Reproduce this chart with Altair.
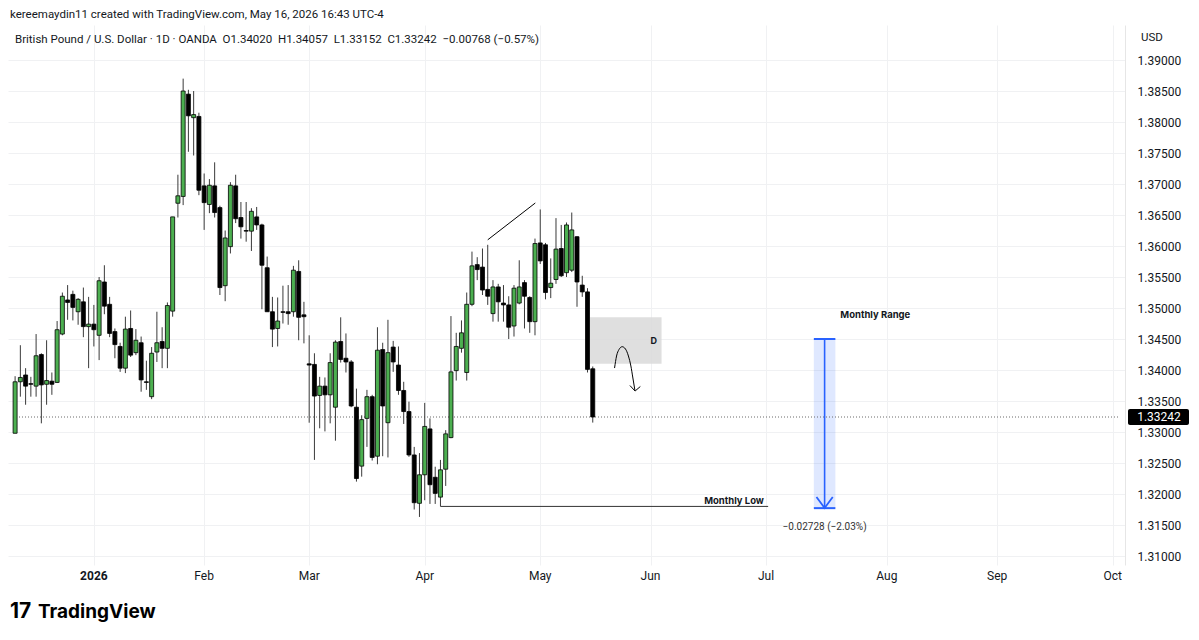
import altair as alt
import pandas as pd

# ---------------- data (GBP/USD daily) ----------------
opens = [1.3298, 1.3381, 1.3392, 1.3378, 1.3374, 1.3425, 1.3377, 1.3382, 1.3380, 1.3458,
         1.3513, 1.3522, 1.3494, 1.3510, 1.3470, 1.3474, 1.3456, 1.3542, 1.3506, 1.3462,
         1.3438, 1.3403, 1.3467, 1.3428, 1.3444, 1.3381, 1.3357, 1.3429, 1.3446, 1.3435,
         1.3495, 1.3669, 1.3680, 1.3845, 1.3807, 1.3809, 1.3697, 1.3667, 1.3697, 1.3662,
         1.3536, 1.3599, 1.3697, 1.3646, 1.3625, 1.3624, 1.3647, 1.3634, 1.3565, 1.3494,
         1.3467, 1.3494, 1.3494, 1.3494, 1.3559, 1.3489, 1.3410, 1.3409, 1.3359, 1.3374,
         1.3360, 1.3340, 1.3446, 1.3419, 1.3413, 1.3340, 1.3245, 1.3322, 1.3357, 1.3261,
         1.3433, 1.3315, 1.3437, 1.3408, 1.3367, 1.3333, 1.3263, 1.3185, 1.3231, 1.3305,
         1.3227, 1.3195, 1.3240, 1.3291, 1.3399, 1.3435, 1.3396, 1.3506, 1.3570, 1.3566,
         1.3530, 1.3491, 1.3534, 1.3508, 1.3505, 1.3471, 1.3508, 1.3541, 1.3517, 1.3478,
         1.3605, 1.3602, 1.3533, 1.3546, 1.3596, 1.3557, 1.3561, 1.3615, 1.3537, 1.3526,
         1.34020]
highs = [1.3390, 1.3440, 1.3403, 1.3389, 1.3458, 1.3427, 1.3448, 1.3396, 1.3479, 1.3525,
         1.3537, 1.3528, 1.3516, 1.3533, 1.3518, 1.3505, 1.3550, 1.3569, 1.3518, 1.3467,
         1.3444, 1.3486, 1.3496, 1.3466, 1.3454, 1.3415, 1.3437, 1.3494, 1.3469, 1.3509,
         1.3647, 1.3715, 1.3870, 1.3852, 1.3850, 1.3815, 1.3717, 1.3708, 1.3735, 1.3665,
         1.3625, 1.3703, 1.3715, 1.3671, 1.3671, 1.3661, 1.3663, 1.3636, 1.3583, 1.3518,
         1.3517, 1.3536, 1.3537, 1.3568, 1.3577, 1.3510, 1.3456, 1.3427, 1.3389, 1.3388,
         1.3427, 1.3448, 1.3485, 1.3459, 1.3416, 1.3370, 1.3327, 1.3368, 1.3360, 1.3469,
         1.3444, 1.3481, 1.3447, 1.3438, 1.3381, 1.3349, 1.3276, 1.3266, 1.3347, 1.3322,
         1.3244, 1.3255, 1.3303, 1.3487, 1.3460, 1.3480, 1.3525, 1.3591, 1.3582, 1.3596,
         1.3602, 1.3545, 1.3539, 1.3537, 1.3519, 1.3537, 1.3577, 1.3545, 1.3519, 1.3612,
         1.3659, 1.3605, 1.3580, 1.3645, 1.3634, 1.3638, 1.3654, 1.3616, 1.3552, 1.3532,
         1.34057]
lows = [1.3298, 1.3357, 1.3344, 1.3357, 1.3357, 1.3314, 1.3344, 1.3360, 1.3379, 1.3456,
        1.3481, 1.3480, 1.3473, 1.3453, 1.3403, 1.3438, 1.3416, 1.3490, 1.3453, 1.3419,
        1.3397, 1.3395, 1.3421, 1.3424, 1.3365, 1.3368, 1.3353, 1.3413, 1.3403, 1.3403,
        1.3486, 1.3646, 1.3666, 1.3752, 1.3746, 1.3682, 1.3626, 1.3653, 1.3646, 1.3521,
        1.3511, 1.3588, 1.3637, 1.3612, 1.3607, 1.3592, 1.3626, 1.3498, 1.3494, 1.3437,
        1.3438, 1.3475, 1.3473, 1.3486, 1.3448, 1.3443, 1.3315, 1.3255, 1.3306, 1.3301,
        1.3314, 1.3286, 1.3412, 1.3396, 1.3340, 1.3220, 1.3228, 1.3276, 1.3254, 1.3248,
        1.3261, 1.3259, 1.3397, 1.3360, 1.3313, 1.3260, 1.3175, 1.3163, 1.3190, 1.3184,
        1.3184, 1.3180, 1.3213, 1.3290, 1.3383, 1.3428, 1.3383, 1.3503, 1.3545, 1.3521,
        1.3505, 1.3478, 1.3478, 1.3478, 1.3450, 1.3454, 1.3506, 1.3467, 1.3460, 1.3456,
        1.3571, 1.3514, 1.3516, 1.3539, 1.3550, 1.3550, 1.3558, 1.3502, 1.3518, 1.3396,
        1.33152]
closes = [1.3381, 1.3388, 1.3374, 1.3377, 1.3423, 1.3376, 1.3383, 1.3377, 1.3465, 1.3519,
          1.3509, 1.3501, 1.3514, 1.3470, 1.3474, 1.3465, 1.3544, 1.3503, 1.3459, 1.3441,
          1.3403, 1.3466, 1.3424, 1.3448, 1.3384, 1.3380, 1.3427, 1.3444, 1.3435, 1.3504,
          1.3647, 1.3681, 1.3850, 1.3810, 1.3812, 1.3690, 1.3670, 1.3698, 1.3654, 1.3533,
          1.3613, 1.3698, 1.3644, 1.3631, 1.3624, 1.3656, 1.3634, 1.3569, 1.3494, 1.3466,
          1.3479, 1.3493, 1.3491, 1.3561, 1.3485, 1.3486, 1.3408, 1.3358, 1.3374, 1.3360,
          1.3412, 1.3445, 1.3417, 1.3413, 1.3342, 1.3225, 1.3320, 1.3357, 1.3259, 1.3432,
          1.3342, 1.3428, 1.3413, 1.3367, 1.3333, 1.3263, 1.3186, 1.3231, 1.3309, 1.3215,
          1.3201, 1.3239, 1.3297, 1.3397, 1.3438, 1.3460, 1.3506, 1.3568, 1.3562, 1.3529,
          1.3519, 1.3534, 1.3510, 1.3505, 1.3469, 1.3532, 1.3534, 1.3519, 1.3478, 1.3604,
          1.3576, 1.3525, 1.3540, 1.3595, 1.3552, 1.3634, 1.3626, 1.3542, 1.3526, 1.3401,
          1.33242]

month_labels = ["2026", "Feb", "Mar", "Apr", "May", "Jun", "Jul", "Aug", "Sep", "Oct"]
month_bars = [15, 36, 56, 78, 100, 121, 143, 166, 187, 209]
price_ticks = [1.310, 1.315, 1.320, 1.325, 1.330, 1.335, 1.340, 1.345, 1.350,
               1.355, 1.360, 1.365, 1.370, 1.375, 1.380, 1.385, 1.390]
last_price = 1.33242

# annotations (bar index, price)
trend_i = [90.0, 99.06]
trend_p = [1.3610, 1.36694]
zone_i = [109.4, 123.1]
zone_p = [1.3410, 1.3485]
arc_i = [114.15, 114.53, 115.0, 115.6, 116.23, 116.79, 117.26, 117.64, 118.02]
arc_p = [1.34032, 1.34226, 1.34331, 1.34376, 1.34339, 1.34226, 1.34065, 1.33871, 1.33677]
arc_head_i = [117.08, 118.06, 119.06]
arc_head_p = [1.33750, 1.33661, 1.33734]
low_i = [81.0, 143.4]
low_p = 1.3180
range_i = [152.1, 156.2]
range_mid = 154.15
range_p = [1.34500, 1.31772]
range_head_i = [152.6, 154.15, 155.7]
range_head_p = [1.31952, 1.31774, 1.31952]

FONT = "Roboto"
BOLDFONT = "Inter"
TXT = "#131722"

df = pd.DataFrame({"i": list(range(len(opens))), "o": opens, "h": highs, "l": lows, "c": closes})

xscale = alt.Scale(domain=[-0.4, 210.4], nice=False, zero=False)
yscale = alt.Scale(domain=[1.30855, 1.39565], nice=False, zero=False)
xaxis = alt.Axis(values=month_bars, grid=True, labels=False, ticks=False, domain=False,
                 gridColor="#f0f1f3", title=None)
yaxis = alt.Axis(orient="right", values=price_ticks, format=".5f", grid=True,
                 gridColor="#f0f1f3", ticks=False, domain=True, domainColor="#e6e6e6",
                 labelFont=FONT, labelFontSize=12, labelColor=TXT, labelPadding=12,
                 title=None)


def X(f):
    return alt.X(f, type="quantitative", scale=xscale, axis=xaxis)


def Y(f):
    return alt.Y(f, type="quantitative", scale=yscale, axis=yaxis)


base = alt.Chart(df)
wicks = base.mark_rule(color="#3a3a3a", strokeWidth=1).encode(x=X("i"), y=Y("l"), y2="h")
bodies = base.mark_bar(size=4, stroke="#000000", strokeWidth=0.8).encode(
    x=X("i"), y=Y("o"), y2="c",
    color=alt.condition("datum.c >= datum.o", alt.value("#4caf50"), alt.value("#000000")),
)

last_df = pd.DataFrame({"x1": [-0.4], "x2": [210.4], "p": [last_price]})
last_line = alt.Chart(last_df).mark_rule(color="#6b6b6b", strokeDash=[1, 2], strokeWidth=1).encode(
    x=X("x1"), x2="x2", y=Y("p"))

trend = alt.Chart(pd.DataFrame({"i": trend_i, "p": trend_p})).mark_line(
    color="#000000", strokeWidth=1).encode(x=X("i"), y=Y("p"))

zone = alt.Chart(pd.DataFrame({"a": [zone_i[0]], "b": [zone_i[1]],
                               "p1": [zone_p[0]], "p2": [zone_p[1]]})).mark_rect(
    color="#d9d9d9", opacity=0.85).encode(x=X("a"), x2="b", y=Y("p1"), y2="p2")
zone_lbl = alt.Chart(pd.DataFrame({"i": [121.6], "p": [1.3447], "t": ["D"]})).mark_text(
    font=BOLDFONT, fontSize=9, fontWeight="bold", color=TXT).encode(x=X("i"), y=Y("p"), text="t")

arc = alt.Chart(pd.DataFrame({"i": arc_i, "p": arc_p})).mark_line(
    color="#000000", strokeWidth=1, interpolate="monotone").encode(x=X("i"), y=Y("p"))
arc_head = alt.Chart(pd.DataFrame({"i": arc_head_i, "p": arc_head_p})).mark_line(
    color="#000000", strokeWidth=1).encode(x=X("i"), y=Y("p"))

low_line = alt.Chart(pd.DataFrame({"a": [low_i[0]], "b": [low_i[1]], "p": [low_p]})).mark_rule(
    color="#333333", strokeWidth=1).encode(x=X("a"), x2="b", y=Y("p"))
low_lbl = alt.Chart(pd.DataFrame({"i": [142.6], "p": [1.31888], "t": ["Monthly Low"]})).mark_text(
    font=BOLDFONT, fontSize=9.5, fontWeight="bold", color=TXT, align="right").encode(
    x=X("i"), y=Y("p"), text="t")

BLUE = "#2962ff"
range_rect = alt.Chart(pd.DataFrame({"a": [range_i[0]], "b": [range_i[1]],
                                     "p1": [range_p[0]], "p2": [range_p[1]]})).mark_rect(
    color=BLUE, opacity=0.15).encode(x=X("a"), x2="b", y=Y("p1"), y2="p2")
range_caps = alt.Chart(pd.DataFrame({"a": [range_i[0], range_i[0]], "b": [range_i[1], range_i[1]],
                                     "p": range_p})).mark_rule(color=BLUE, strokeWidth=2).encode(
    x=X("a"), x2="b", y=Y("p"))
range_stem = alt.Chart(pd.DataFrame({"i": [range_mid], "p1": [range_p[0]], "p2": [range_p[1]]})).mark_rule(
    color=BLUE, strokeWidth=1.6).encode(x=X("i"), y=Y("p1"), y2="p2")
range_head = alt.Chart(pd.DataFrame({"i": range_head_i, "p": range_head_p})).mark_line(
    color=BLUE, strokeWidth=1.8).encode(x=X("i"), y=Y("p"))
range_title = alt.Chart(pd.DataFrame({"i": [163.8], "p": [1.34887], "t": ["Monthly Range"]})).mark_text(
    font=BOLDFONT, fontSize=9.5, fontWeight="bold", color=TXT).encode(x=X("i"), y=Y("p"), text="t")
range_val = alt.Chart(pd.DataFrame({"i": [range_mid], "p": [1.31468],
                                    "t": ["\u22120.02728 (\u22122.03%)"]})).mark_text(
    font=FONT, fontSize=10, color="#333333").encode(x=X("i"), y=Y("p"), text="t")

# price tag on the right axis
tag = alt.Chart(pd.DataFrame({"p1": [last_price + 0.0013], "p2": [last_price - 0.0013]})).mark_rect(
    color="#000000", cornerRadius=2).encode(
    x=alt.value(1120), x2=alt.value(1181), y=Y("p1"), y2="p2")
tag_txt = alt.Chart(pd.DataFrame({"p": [last_price], "t": ["1.33242"]})).mark_text(
    font=FONT, fontSize=12, color="#ffffff").encode(x=alt.value(1151), y=Y("p"), text="t")


def label(txt, x, y, size=11.5, weight="normal", align="left", color=TXT, font=FONT):
    return alt.Chart(pd.DataFrame({"t": [txt]})).mark_text(
        font=font, fontSize=size, fontWeight=weight, align=align, baseline="middle",
        color=color).encode(x=alt.value(x), y=alt.value(y), text="t")


header = label("kereemaydin11 created with TradingView.com, May 16, 2026 16:43 UTC-4", 2, -10, 11.5)
legend = label("British Pound / U.S. Dollar \u00b7 1D \u00b7 OANDA\u00a0\u00a0O1.34020\u00a0\u00a0H1.34057"
               "\u00a0\u00a0L1.33152\u00a0\u00a0C1.33242\u00a0\u00a0\u22120.00768 (\u22120.57%)", 7, 15, 11.5)
usd = label("USD", 1144, 13, 11.5, align="center")

month_df = pd.DataFrame({"i": month_bars, "t": month_labels})
month_year = alt.Chart(month_df.iloc[:1]).mark_text(
    font=FONT, fontSize=12, fontWeight="bold", color=TXT, baseline="middle").encode(
    x=X("i"), y=alt.value(551), text="t")
month_rest = alt.Chart(month_df.iloc[1:]).mark_text(
    font=FONT, fontSize=12, color=TXT, baseline="middle").encode(
    x=X("i"), y=alt.value(551), text="t")

logo_mark = label("17", 2, 587, 21, "bold", color="#000000", font=BOLDFONT)
logo_txt = label("TradingView", 30, 587, 19, "bold", color="#000000", font=BOLDFONT)

chart = alt.layer(
    zone, range_rect, last_line, wicks, bodies, trend, zone_lbl, arc, arc_head,
    low_line, low_lbl, range_caps, range_stem, range_head, range_title, range_val,
    tag, tag_txt, header, legend, usd, month_year, month_rest, logo_mark, logo_txt,
).properties(
    width=1117, height=540,
    autosize=alt.AutoSizeParams(type="none"),
    padding={"left": 0, "top": 17, "right": 66, "bottom": 62},
    background="white",
).configure_view(stroke=None)

chart.save("out.html", embed_options={"renderer": "svg", "actions": False})
